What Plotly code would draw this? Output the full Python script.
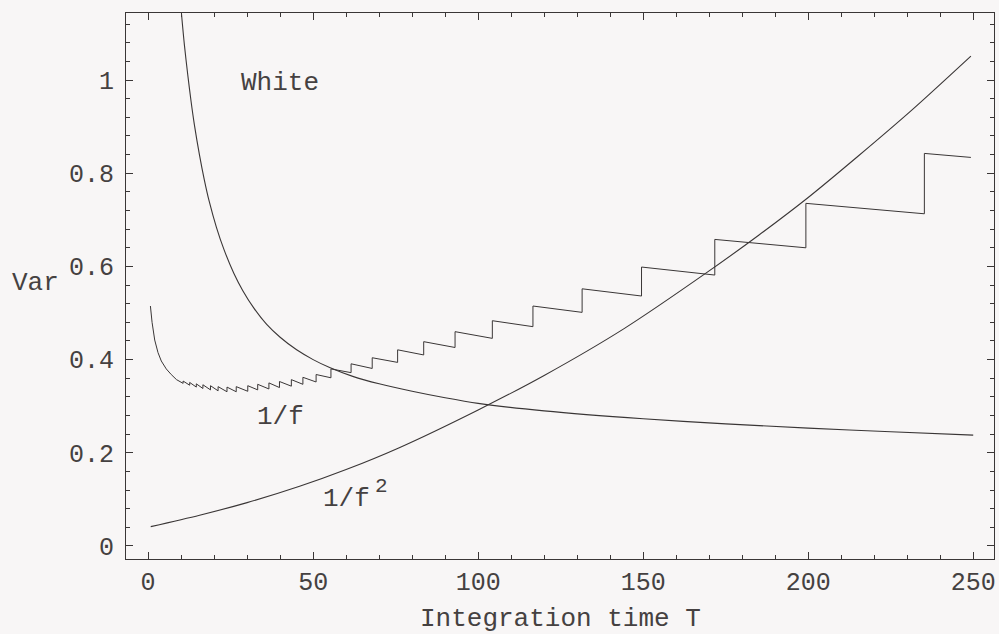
import plotly.graph_objects as go

# ---- data ----
white_T = [10.1, 11.0, 12.0, 13.0, 14.0, 15.6, 17.0, 18.5, 20.7, 23.0, 26.0, 28.7, 32.0, 36.0, 40.0, 45.0, 50.0, 55.0, 62.0, 70.0, 80.0, 90.0, 100.0, 120.0, 150.0, 175.0, 200.0, 225.0, 250.0]
white_V = [1.143, 1.075, 1.012, 0.955, 0.905, 0.838, 0.787, 0.740, 0.684, 0.636, 0.585, 0.548, 0.511, 0.475, 0.448, 0.421, 0.400, 0.383, 0.364, 0.348, 0.332, 0.318, 0.306, 0.290, 0.273, 0.262, 0.253, 0.245, 0.238]

f2_T = [0.8, 15.6, 30.0, 45.9, 60.0, 76.1, 100.0, 120.0, 144.1, 168.9, 185.0, 200.0, 215.0, 231.3, 249.3]
f2_V = [0.0415, 0.066, 0.093, 0.128, 0.164, 0.211, 0.292, 0.366, 0.466, 0.585, 0.667, 0.748, 0.836, 0.935, 1.0515]

# 1/f: smooth initial descent, then a sawtooth that jumps up at these times
onef_head_T = [0.7, 1.2, 2.0, 3.0, 4.0, 5.5, 7.0, 8.6]
onef_head_V = [0.515, 0.480, 0.442, 0.415, 0.397, 0.380, 0.368, 0.357]
jump_T = [10.6, 12.6, 14.6, 16.6, 18.9, 21.2, 23.9, 26.7, 30.2, 33.2, 36.6, 39.8, 43.4, 46.9, 50.9, 55.4, 61.5, 67.9, 75.6, 83.5, 93.0, 104.3, 116.6, 131.5, 149.5, 171.7, 199.3, 235.2]
jump_low = [0.349, 0.345, 0.341, 0.338, 0.335, 0.333, 0.331, 0.331, 0.332, 0.335, 0.337, 0.340, 0.343, 0.347, 0.352, 0.361, 0.372, 0.381, 0.394, 0.410, 0.426, 0.4456, 0.4707, 0.5014, 0.5365, 0.5815, 0.640, 0.713]
jump_high = [0.354, 0.351, 0.348, 0.346, 0.344, 0.342, 0.341, 0.342, 0.344, 0.347, 0.350, 0.353, 0.357, 0.362, 0.368, 0.380, 0.391, 0.404, 0.421, 0.4385, 0.460, 0.4835, 0.515, 0.552, 0.5987, 0.658, 0.7354, 0.8426]
onef_end_T = 249.3
onef_end_V = 0.834

x_ticks = [0, 50, 100, 150, 200, 250]
y_ticks = [0, 0.2, 0.4, 0.6, 0.8, 1]
y_tick_text = ["0", "0.2", "0.4", "0.6", "0.8", "1"]

# build 1/f polyline
onef_T = list(onef_head_T)
onef_V = list(onef_head_V)
for t, lo, hi in zip(jump_T, jump_low, jump_high):
    onef_T += [t, t]
    onef_V += [lo, hi]
onef_T.append(onef_end_T)
onef_V.append(onef_end_V)

INK = "#3a3636"
TXT = "#454141"
FONT = "Liberation Mono"
BG = "#f8f6f6"

fig = go.Figure()
fig.add_trace(go.Scatter(x=white_T, y=white_V, mode="lines",
                         line=dict(color=INK, width=1.1, shape="spline", smoothing=0.8)))
fig.add_trace(go.Scatter(x=f2_T, y=f2_V, mode="lines",
                         line=dict(color=INK, width=1.1, shape="spline", smoothing=0.8)))
fig.add_trace(go.Scatter(x=onef_T, y=onef_V, mode="lines",
                         line=dict(color=INK, width=1.0)))

axis_common = dict(showgrid=False, zeroline=False, showline=True, linecolor=INK,
                   linewidth=1.2, mirror="allticks", ticks="inside", tickcolor=INK,
                   tickwidth=1, ticklen=7,
                   tickfont=dict(family=FONT, size=25, color=TXT))

fig.update_xaxes(range=[-6.7, 256.3], tickvals=x_ticks, ticktext=[str(v) for v in x_ticks],
                 minor=dict(dtick=10, tick0=0, ticks="inside", ticklen=4, tickcolor=INK, tickwidth=1),
                 ticklabelstandoff=0, **axis_common)
fig.update_yaxes(range=[-0.028, 1.144], tickvals=y_ticks, ticktext=y_tick_text,
                 minor=dict(dtick=0.04, tick0=0, ticks="inside", ticklen=4, tickcolor=INK, tickwidth=1),
                 ticklabelstandoff=6, **axis_common)

ann_font = dict(family=FONT, size=26, color=TXT)
sup_font = dict(family=FONT, size=21, color=TXT)
fig.update_layout(
    width=999, height=634,
    margin=dict(l=126, r=3, t=13, b=75),
    paper_bgcolor=BG, plot_bgcolor=BG,
    showlegend=False,
    annotations=[
        dict(text="White", x=40.1, y=0.993, xref="x", yref="y", xanchor="center", yanchor="middle",
             showarrow=False, font=ann_font),
        dict(text="1/f", x=40.1, y=0.277, xref="x", yref="y", xanchor="center", yanchor="middle",
             showarrow=False, font=ann_font),
        dict(text="1/f", x=60.2, y=0.100, xref="x", yref="y", xanchor="center", yanchor="middle",
             showarrow=False, font=ann_font),
        dict(text="2", x=70.7, y=0.128, xref="x", yref="y", xanchor="center", yanchor="middle",
             showarrow=False, font=sup_font),
        dict(text="Var", x=-0.104, y=0.505, xref="paper", yref="paper", xanchor="center", yanchor="middle",
             showarrow=False, font=ann_font),
        dict(text="Integration time T", x=124.9, y=-0.110, xref="x", yref="paper",
             xanchor="center", yanchor="middle", showarrow=False, font=ann_font),
    ],
)

fig.write_html("out.html")
